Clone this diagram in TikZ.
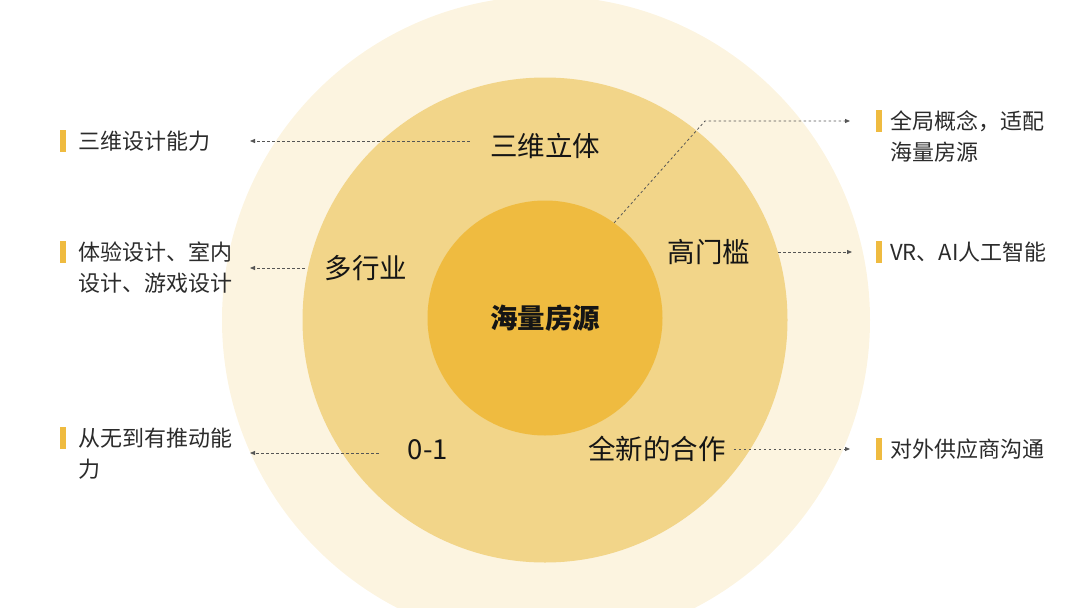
\documentclass[tikz,border=0pt]{standalone}
\usepackage{fontspec}
\setmainfont{Noto Sans CJK SC}
\usetikzlibrary{arrows.meta, positioning, calc}
\definecolor{c1}{HTML}{FCF4E0}
\definecolor{c2}{HTML}{F2D589}
\definecolor{c3}{HTML}{EFBB40}
\definecolor{c4}{HTML}{151515}
\definecolor{linecolor}{HTML}{555555}
\definecolor{labelcolor}{HTML}{2B2B2B}

\begin{document}
\begin{tikzpicture}[
    x=1pt, y=-1pt,
    ring/.style={font=\fontsize{27.5}{33}\selectfont, text=c4, inner sep=0pt},
    side/.style={font=\fontsize{22}{31}\selectfont, text=labelcolor, inner sep=0pt, align=left, anchor=base west},
    conn/.style={linecolor, line width=0.8pt, dash pattern=on 2.5pt off 2.5pt, -{Triangle[length=5pt, width=4pt]}},
    bar/.style={fill=c3},
]
\useasboundingbox (0,0) rectangle (1080,608);
\clip (0,0) rectangle (1080,608);

% ---------------------------------------------------------------- the rings
\fill[c1] (546,320) circle[radius=324pt];
\fill[c2] (545,320) circle[radius=242.5pt];
\node[circle, fill=c3, minimum size=235pt, inner sep=0pt,
      font=\fontsize{27.5}{33}\selectfont\bfseries, text=c4] (core) at (545,318) {海量房源};

\node[ring] (cTop)   at (545,146) {三维立体};
\node[ring] (cLeft)  at (366,268) {多行业};
\node[ring] (cRight) at (709,252) {高门槛};
\node[ring] (cLow)   at (428,450) {0-1};
\node[ring] (cNew)   at (657,449) {全新的合作};

% ---------------------------------------------------------------- left side
% (base of a two-line label sits on its last line)
\fill[bar] (60,130) rectangle (66,152);
\node[side] (lTop) at (78,149) {三维设计能力};
\fill[bar] (60,241) rectangle (66,263);
\node[side] (lLeft) at (78,291) {体验设计、室内\\设计、游戏设计};
\fill[bar] (60,427) rectangle (66,449);
\node[side] (lLow) at (78,477) {从无到有推动能\\力};

% ---------------------------------------------------------------- right side
\fill[bar] (876,110) rectangle (882,132);
\node[side] (rTop) at (890,160) {全局概念，适配\\海量房源};
\fill[bar] (876,241) rectangle (882,263);
\node[side] (rMid) at (890,260) {VR、AI人工智能};
\fill[bar] (876,438) rectangle (882,460);
\node[side] (rLow) at (890,457) {对外供应商沟通};

% ---------------------------------------------------------------- connectors
\coordinate (aTop)   at (250,141);
\coordinate (aLeft)  at (250,268);
\coordinate (aLow)   at (250,453);
\coordinate (bend)   at (705,121);
\coordinate (bTop)   at (850,121);
\coordinate (bMid)   at (852,252);
\coordinate (bLow)   at (850,449);

\draw[conn] ([xshift=-20pt]cTop.west |- aTop) -- (aTop);
\draw[conn] ([xshift=-20pt]cLeft.west |- aLeft) -- (aLeft);
\draw[conn] ([xshift=-29pt]cLow.west |- aLow) -- (aLow);
\draw[conn] (core.54) -- (bend) -- (bTop);
\draw[conn] ([xshift=28pt]cRight.east |- bMid) -- (bMid);
\draw[conn] ([xshift=8pt]cNew.east |- bLow) -- (bLow);

\end{tikzpicture}
\end{document}
